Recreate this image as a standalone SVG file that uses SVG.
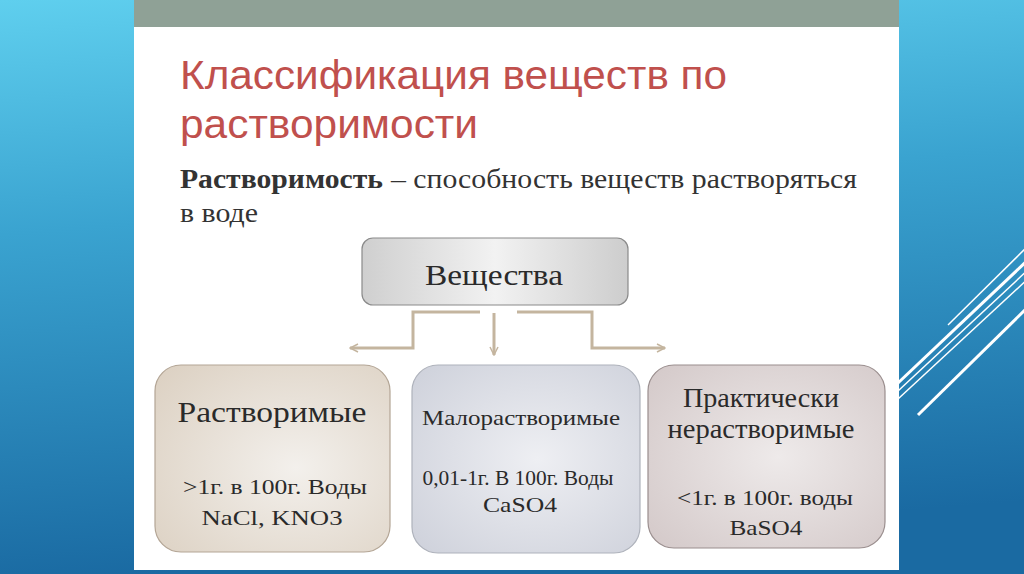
<svg xmlns="http://www.w3.org/2000/svg" width="1024" height="574" viewBox="0 0 1024 574">
<defs>
<linearGradient id="bg" x1="0" y1="0" x2="0.15" y2="1">
<stop offset="0" stop-color="#5fcfee"/>
<stop offset="0.4" stop-color="#3aa3d0"/>
<stop offset="1" stop-color="#1a6aa2"/>
</linearGradient>
<linearGradient id="gTop" x1="0" y1="0" x2="1" y2="0">
<stop offset="0" stop-color="#cfcfcf"/>
<stop offset="0.5" stop-color="#f2f2f2"/>
<stop offset="1" stop-color="#cdcdcd"/>
</linearGradient>
<radialGradient id="g1" cx="0.6" cy="0.55" r="0.75">
<stop offset="0" stop-color="#f3f0ec"/>
<stop offset="1" stop-color="#ddd2c4"/>
</radialGradient>
<radialGradient id="g2" cx="0.55" cy="0.5" r="0.75">
<stop offset="0" stop-color="#eeeff3"/>
<stop offset="1" stop-color="#cdd0da"/>
</radialGradient>
<radialGradient id="g3" cx="0.55" cy="0.5" r="0.75">
<stop offset="0" stop-color="#eeeaea"/>
<stop offset="1" stop-color="#d3c8c8"/>
</radialGradient>
<marker id="arr" viewBox="0 0 10 10" refX="9" refY="5" markerWidth="10" markerHeight="10" markerUnits="userSpaceOnUse" orient="auto">
<path d="M1,1 L9,5 L1,9" fill="none" stroke="#c4b59f" stroke-width="1.5"/>
</marker>
<style>
.serif{font-family:"Liberation Serif","DejaVu Serif",serif;fill:#2a2a2a;text-anchor:middle}
.title{font-family:"Liberation Sans","Open Sans",sans-serif;fill:#c0504d;font-size:40px}
.sub{font-family:"Liberation Serif","DejaVu Serif",serif;fill:#333;font-size:27px}
.conn{fill:none;stroke:#c4b59f;stroke-width:3}
.wl{stroke:#ffffff;fill:none}
</style>
</defs>
<rect x="0" y="0" width="1024" height="574" fill="url(#bg)"/>
<g id="deco">
<line class="wl" x1="948" y1="325" x2="1030" y2="244" stroke-width="1.5"/>
<line class="wl" x1="898" y1="383" x2="1030" y2="258" stroke-width="3"/>
<line class="wl" x1="898" y1="391" x2="1030" y2="268" stroke-width="1.5"/>
<line class="wl" x1="898" y1="399" x2="1030" y2="277" stroke-width="1.5"/>
<line class="wl" x1="918" y1="415" x2="1030" y2="305" stroke-width="3"/>
</g>
<rect x="134" y="0" width="765" height="570" fill="#ffffff"/>
<rect x="134" y="0" width="765" height="27" fill="#8fa196"/>
<g id="header">
<text class="title" x="180" y="89" textLength="547" lengthAdjust="spacingAndGlyphs">Классификация веществ по</text>
<text class="title" x="180" y="138" textLength="298" lengthAdjust="spacingAndGlyphs">растворимости</text>
<text class="sub" x="180" y="188" font-weight="bold" fill="#222" textLength="203" lengthAdjust="spacingAndGlyphs">Растворимость</text>
<text class="sub" x="391" y="188" textLength="466" lengthAdjust="spacingAndGlyphs">– способность веществ растворяться</text>
<text class="sub" x="180" y="222" textLength="78" lengthAdjust="spacingAndGlyphs">в воде</text>
</g>
<g id="connectors">
<path class="conn" d="M480,312 H413 V348 H350" marker-end="url(#arr)"/>
<path class="conn" d="M494,313 V355" stroke-width="1.5" marker-end="url(#arr)"/>
<path class="conn" d="M517,312 H592 V348 H665" marker-end="url(#arr)"/>
</g>
<g id="node-top">
<rect x="362" y="238" width="266" height="67" rx="11" fill="url(#gTop)" stroke="#8a8a8a" stroke-width="1.2"/>
<text class="serif" x="494" y="285" font-size="30" textLength="138" lengthAdjust="spacingAndGlyphs">Вещества</text>
</g>
<g id="node-soluble">
<rect x="155" y="365" width="235" height="187" rx="26" fill="url(#g1)" stroke="#b3a595" stroke-width="1.2"/>
<text class="serif" x="272" y="422" font-size="29" textLength="189" lengthAdjust="spacingAndGlyphs">Растворимые</text>
<text class="serif" x="275" y="494" font-size="21" textLength="184" lengthAdjust="spacingAndGlyphs">&gt;1г. в 100г. Воды</text>
<text class="serif" x="272" y="525" font-size="21" textLength="141" lengthAdjust="spacingAndGlyphs">NaCl, KNO3</text>
</g>
<g id="node-slightly">
<rect x="412" y="365" width="228" height="188" rx="26" fill="url(#g2)" stroke="#aeb2bb" stroke-width="1.2"/>
<text class="serif" x="521" y="425" font-size="22" textLength="198" lengthAdjust="spacingAndGlyphs">Малорастворимые</text>
<text class="serif" x="518" y="485" font-size="20" textLength="191" lengthAdjust="spacingAndGlyphs">0,01-1г. В 100г. Воды</text>
<text class="serif" x="520" y="512" font-size="22" textLength="74" lengthAdjust="spacingAndGlyphs">CaSO4</text>
</g>
<g id="node-insoluble">
<rect x="648" y="365" width="237" height="183" rx="26" fill="url(#g3)" stroke="#9a8e8e" stroke-width="1.2"/>
<text class="serif" x="761" y="407" font-size="28" textLength="156" lengthAdjust="spacingAndGlyphs">Практически</text>
<text class="serif" x="761" y="438" font-size="28" textLength="187" lengthAdjust="spacingAndGlyphs">нерастворимые</text>
<text class="serif" x="765" y="505" font-size="21" textLength="176" lengthAdjust="spacingAndGlyphs">&lt;1г. в 100г. воды</text>
<text class="serif" x="766" y="535" font-size="21" textLength="73" lengthAdjust="spacingAndGlyphs">BaSO4</text>
</g>
</svg>
